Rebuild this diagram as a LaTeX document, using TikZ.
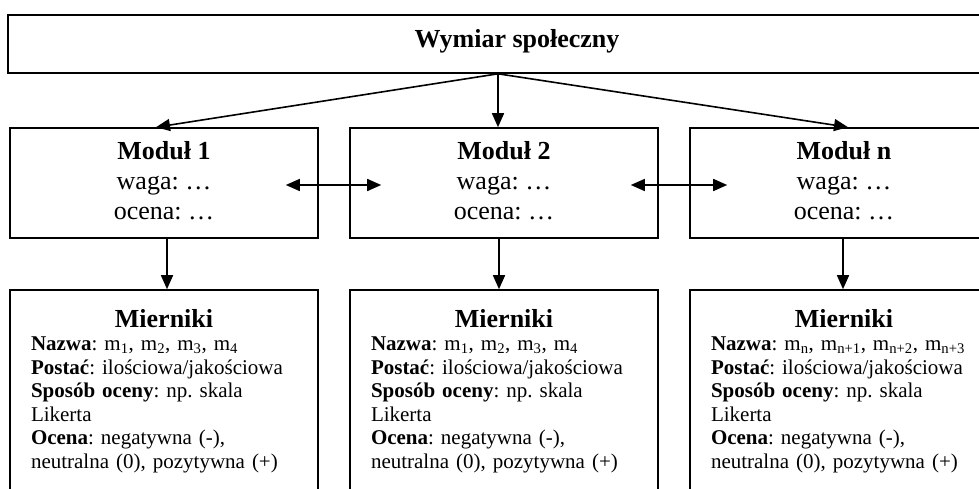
\documentclass[tikz,border=0pt]{standalone}
\usepackage{fontspec}
\setmainfont{Liberation Serif}
\usetikzlibrary{arrows.meta,positioning}
\frenchspacing

\newcommand{\miernikitext}[1]{%
\makebox[\hsize]{\fontsize{26}{23.5}\selectfont\bfseries Mierniki}\\
\textbf{Nazwa}: #1\\
\textbf{Postać}: ilościowa/jakościowa\\
\textbf{Sposób oceny}: np. skala\\
Likerta\\
\textbf{Ocena}: negatywna (-),\\
neutralna (0), pozytywna (+)}

\begin{document}
\begin{tikzpicture}[
    x=1pt, y=-1pt,
    line width=1.6pt,
    >={Triangle[length=14pt,width=12pt]},
    box/.style={draw, minimum width=308pt, inner sep=0pt},
    modbox/.style={box, minimum height=110pt, align=center, text depth=6pt,
        font=\fontsize{26}{30}\selectfont},
    miebox/.style={box, minimum height=240pt},
    mietext/.style={inner sep=0pt, text width=266pt, align=left,
        font=\fontsize{21}{23.5}\selectfont}
]
\useasboundingbox (0,0) rectangle (979,489);
\clip (0,0) rectangle (979,489);

% 1. Wymiar
\node[box, minimum width=1018pt, minimum height=58pt, text depth=11pt,
    font=\fontsize{26}{30}\selectfont\bfseries] (top) at (517,44) {Wymiar społeczny};
\coordinate (fork) at ([xshift=-19pt]top.south);

% 2. Moduly
\node[modbox] (mod1) at (164,183) {\textbf{Moduł 1}\\waga: …\\ocena: …};
\node[modbox] (mod2) at (504,183) {\textbf{Moduł 2}\\waga: …\\ocena: …};
\node[modbox] (mod3) at (844,183) {\textbf{Moduł n}\\waga: …\\ocena: …};

% 3. Mierniki
\node[miebox] (mie1) at (164,410) {};
\node[miebox] (mie2) at (504,410) {};
\node[miebox] (mie3) at (844,410) {};
\node[mietext, below=19pt of mie1.north] (txt1)
    {\miernikitext{m\textsubscript{1}, m\textsubscript{2}, m\textsubscript{3}, m\textsubscript{4}}};
\node[mietext, below=19pt of mie2.north] (txt2)
    {\miernikitext{m\textsubscript{1}, m\textsubscript{2}, m\textsubscript{3}, m\textsubscript{4}}};
\node[mietext, below=19pt of mie3.north] (txt3)
    {\miernikitext{m\textsubscript{n}, m\textsubscript{n+1}, m\textsubscript{n+2}, m\textsubscript{n+3}}};

% 4. Polaczenia
\draw[->] (fork) -- ([xshift=-8pt]mod1.north);
\draw[->] (fork) -- ([xshift=-6pt]mod2.north);
\draw[->] (fork) -- ([xshift=4pt]mod3.north);
\draw[<->] ([xshift=-33pt,yshift=-2pt]mod1.east) -- ([xshift=32pt,yshift=-2pt]mod2.west);
\draw[<->] ([xshift=-28pt,yshift=-2pt]mod2.east) -- ([xshift=38pt,yshift=-2pt]mod3.west);
\draw[->] ([xshift=3pt]mod1.south) -- ([xshift=3pt]mie1.north);
\draw[->] ([xshift=-5pt]mod2.south) -- ([xshift=-5pt]mie2.north);
\draw[->] ([xshift=-1pt]mod3.south) -- ([xshift=-1pt]mie3.north);
\end{tikzpicture}
\end{document}
